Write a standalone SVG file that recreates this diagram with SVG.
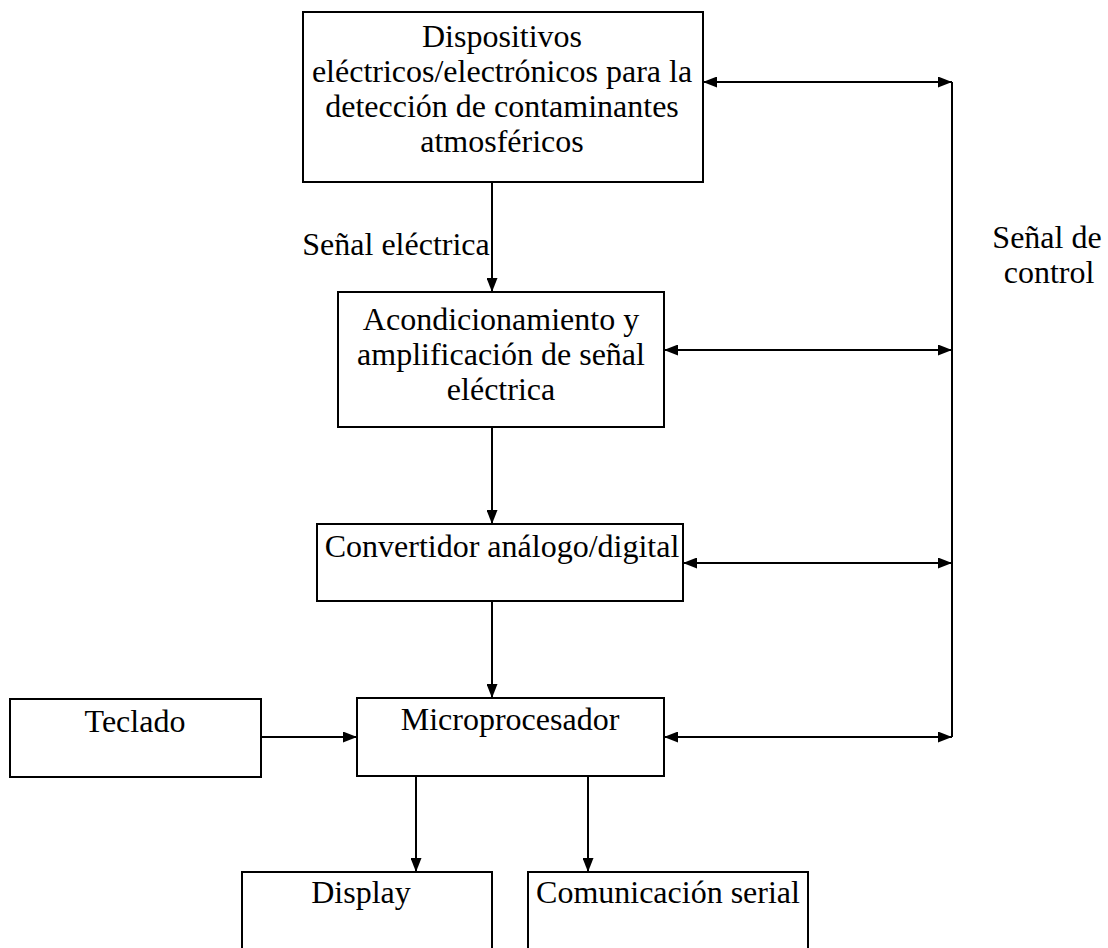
<svg xmlns="http://www.w3.org/2000/svg" width="1108" height="948" viewBox="0 0 1108 948">
<defs>
<marker id="ah" viewBox="0 0 14 11" refX="14" refY="5.5" markerWidth="14" markerHeight="11" markerUnits="userSpaceOnUse" orient="auto-start-reverse">
<path d="M0,0 L14,5.5 L0,11 Z" fill="#000"/>
</marker>
</defs>
<style>
.box{fill:#fff;stroke:#000;stroke-width:2}
.t{font-family:"Liberation Serif","Times New Roman",serif;font-size:32px;fill:#000;text-anchor:middle}
.c{fill:none;stroke:#000;stroke-width:2}
</style>
<rect width="1108" height="948" fill="#fff"/>
<g id="n1">
<rect class="box" x="303" y="12" width="400" height="170"/>
<text class="t" x="502" y="47">Dispositivos</text>
<text class="t" x="502" y="82">eléctricos/electrónicos para la</text>
<text class="t" x="502" y="117">detección de contaminantes</text>
<text class="t" x="502" y="152">atmosféricos</text>
</g>
<g id="n2">
<rect class="box" x="338" y="292" width="326" height="135"/>
<text class="t" x="501" y="330">Acondicionamiento y</text>
<text class="t" x="501" y="365">amplificación de señal</text>
<text class="t" x="501" y="400">eléctrica</text>
</g>
<g id="n3">
<rect class="box" x="317" y="524" width="366" height="77"/>
<text class="t" x="502" y="557">Convertidor análogo/digital</text>
</g>
<g id="n4">
<rect class="box" x="357" y="698" width="307" height="78"/>
<text class="t" x="510" y="730">Microprocesador</text>
</g>
<g id="n5">
<rect class="box" x="10" y="699" width="251" height="78"/>
<text class="t" x="135" y="732">Teclado</text>
</g>
<g id="n6">
<rect class="box" x="242" y="872" width="250" height="90"/>
<text class="t" x="361" y="903">Display</text>
</g>
<g id="n7">
<rect class="box" x="528" y="872" width="280" height="90"/>
<text class="t" x="668" y="903">Comunicación serial</text>
</g>
<g id="labels">
<text class="t" x="396" y="255">Señal eléctrica</text>
<text class="t" x="1047" y="248">Señal de</text>
<text class="t" x="1049" y="283">control</text>
</g>
<g id="connectors">
<line class="c" x1="492" y1="183" x2="492" y2="292" marker-end="url(#ah)"/>
<line class="c" x1="492" y1="427" x2="492" y2="524" marker-end="url(#ah)"/>
<line class="c" x1="492" y1="601" x2="492" y2="698" marker-end="url(#ah)"/>
<line class="c" x1="261" y1="737" x2="357" y2="737" marker-end="url(#ah)"/>
<line class="c" x1="416" y1="776" x2="416" y2="872" marker-end="url(#ah)"/>
<line class="c" x1="588" y1="776" x2="588" y2="872" marker-end="url(#ah)"/>
<line class="c" x1="952" y1="82" x2="952" y2="737"/>
<line class="c" x1="703" y1="82" x2="952" y2="82" marker-start="url(#ah)" marker-end="url(#ah)"/>
<line class="c" x1="664" y1="350" x2="952" y2="350" marker-start="url(#ah)" marker-end="url(#ah)"/>
<line class="c" x1="683" y1="563" x2="952" y2="563" marker-start="url(#ah)" marker-end="url(#ah)"/>
<line class="c" x1="664" y1="737" x2="952" y2="737" marker-start="url(#ah)" marker-end="url(#ah)"/>
</g>
</svg>
